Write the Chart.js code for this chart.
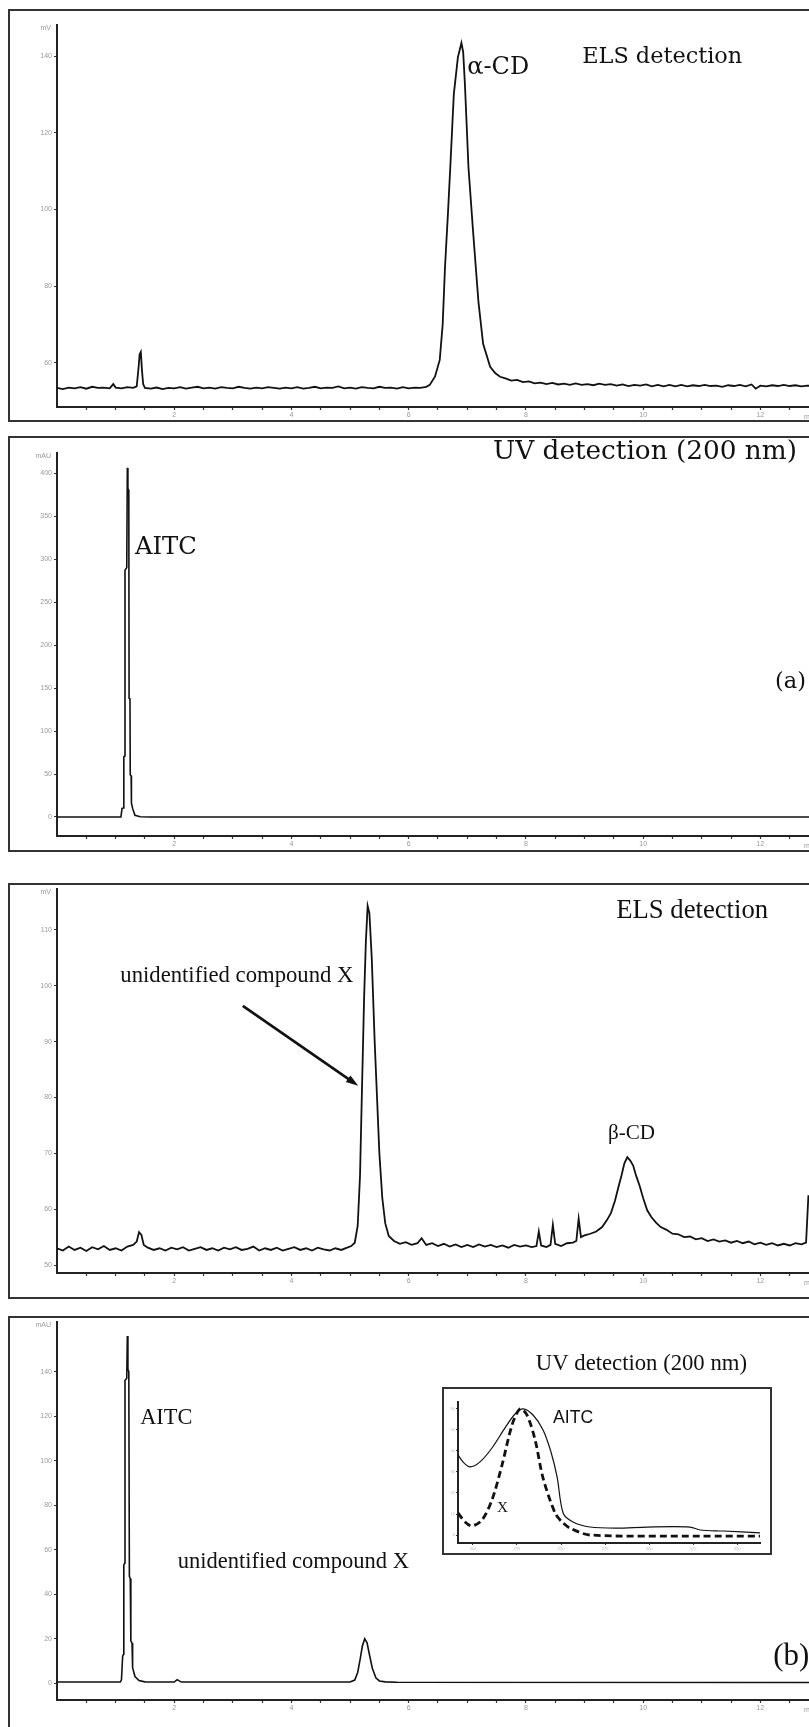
<!DOCTYPE html>
<html>
<head>
<meta charset="utf-8">
<script src="https://cdn.jsdelivr.net/npm/chart.js@4.4.0/dist/chart.umd.min.js"></script>
<style>
  html, body { margin: 0; padding: 0; background: #fff; overflow: hidden; }
  canvas { position: absolute; left: 0; }
</style>
</head>
<body>
<canvas id="p1" width="809" height="413" style="top:9px"></canvas>
<canvas id="p2" width="809" height="416" style="top:436px"></canvas>
<canvas id="p3" width="809" height="416" style="top:883px"></canvas>
<canvas id="p4" width="809" height="411" style="top:1316px"></canvas>
<canvas id="inset" width="330" height="168" style="left:442px; top:1387px"></canvas>
<script>
// retention time axis (min)
const xTicks = [0.5, 1, 1.5, 2, 2.5, 3, 3.5, 4, 4.5, 5, 5.5, 6, 6.5, 7, 7.5, 8, 8.5, 9, 9.5, 10, 10.5, 11, 11.5, 12, 12.5];
const xLabelled = [2, 4, 6, 8, 10, 12];
const xMax = 12.83;

// (a) ELS detection, mV
const elsA_t = [0, 0.1, 0.2, 0.3, 0.4, 0.5, 0.6, 0.7, 0.8, 0.9, 0.96, 1.0, 1.1, 1.2, 1.3, 1.36, 1.39, 1.41, 1.43, 1.45, 1.47, 1.5,
  1.6, 1.7, 1.8, 1.9, 2.0, 2.1, 2.2, 2.3, 2.4, 2.5, 2.6, 2.7, 2.8, 2.9, 3.0, 3.1, 3.2, 3.3, 3.4, 3.5, 3.6, 3.7, 3.8, 3.9,
  4.0, 4.1, 4.2, 4.3, 4.4, 4.5, 4.6, 4.7, 4.8, 4.9, 5.0, 5.1, 5.2, 5.3, 5.4, 5.5, 5.6, 5.7, 5.8, 5.9, 6.0, 6.1, 6.2, 6.3,
  6.36, 6.45, 6.53, 6.58, 6.62, 6.67, 6.71, 6.77, 6.84, 6.9, 6.93, 6.96, 7.02, 7.1, 7.19, 7.27, 7.39, 7.48, 7.56, 7.65,
  7.75, 7.85, 7.95, 8.05, 8.15, 8.25, 8.35, 8.45, 8.55, 8.65, 8.75, 8.85, 8.95, 9.05, 9.15, 9.25, 9.35, 9.45, 9.55, 9.65,
  9.75, 9.85, 9.95, 10.05, 10.15, 10.25, 10.35, 10.45, 10.55, 10.65, 10.75, 10.85, 10.95, 11.05, 11.15, 11.25, 11.35,
  11.45, 11.55, 11.65, 11.75, 11.85, 11.92, 12.0, 12.1, 12.2, 12.3, 12.4, 12.5, 12.6, 12.7, 12.8, 12.9];
const elsA_mv = [53.5, 53.2, 53.6, 53.4, 53.7, 53.3, 53.8, 53.5, 53.6, 53.4, 54.5, 53.6, 53.4, 53.7, 53.5, 53.9, 58.5, 62.3, 62.9, 58.0, 54.5, 53.5,
  53.3, 53.6, 53.2, 53.5, 53.4, 53.7, 53.3, 53.6, 53.8, 53.4, 53.6, 53.3, 53.7, 53.5, 53.4, 53.8, 53.5, 53.3, 53.6, 53.4, 53.7, 53.5, 53.3, 53.6,
  53.4, 53.7, 53.3, 53.5, 53.8, 53.4, 53.6, 53.5, 53.9, 53.4, 53.6, 53.3, 53.7, 53.5, 53.4, 53.8, 53.5, 53.6, 53.3, 53.7, 53.4, 53.6, 53.5, 53.8,
  54.3, 56.5, 60.8, 70, 85, 99, 111, 130, 139.7, 143.4, 141, 132.5, 111, 94, 76, 65, 59, 57.3, 56.4, 56.0,
  55.4, 55.6, 55.0, 55.2, 54.7, 54.9, 54.5, 54.8, 54.4, 54.6, 54.3, 54.7, 54.3, 54.5, 54.2, 54.6, 54.3, 54.5, 54.1, 54.4,
  54.0, 54.3, 54.1, 54.4, 53.9, 54.3, 53.9, 54.3, 53.9, 54.3, 53.9, 54.2, 54.0, 54.3, 54.0, 54.1, 53.8,
  54.2, 54.0, 54.3, 53.9, 54.4, 53.3, 54.1, 53.9, 54.2, 54.0, 54.3, 54.0, 54.2, 53.9, 54.1, 54.0];
const elsA_ticks = [60, 80, 100, 120, 140];

// (a) UV detection 200 nm, mAU
const uvA_t = [0, 1.09, 1.11, 1.13, 1.14, 1.155, 1.16, 1.19, 1.2, 1.21, 1.225, 1.23, 1.245, 1.25, 1.265, 1.27, 1.29, 1.33, 1.42, 1.6, 12.9];
const uvA_mau = [0, 0, 10, 10.5, 70, 71, 287, 290, 406, 382, 380, 138, 137, 49, 48, 16, 10, 2, 0.3, 0, 0];
const uvA_ticks = [0, 50, 100, 150, 200, 250, 300, 350, 400];

// (b) ELS detection, mV
const elsB_t = [0, 0.1, 0.2, 0.3, 0.4, 0.5, 0.6, 0.7, 0.8, 0.9, 1.0, 1.1, 1.2, 1.3, 1.36, 1.4, 1.44, 1.48, 1.55, 1.65, 1.75, 1.85, 1.95,
  2.05, 2.15, 2.25, 2.35, 2.45, 2.55, 2.65, 2.75, 2.85, 2.95, 3.05, 3.15, 3.25, 3.35, 3.45, 3.55, 3.65, 3.75, 3.85, 3.95,
  4.05, 4.15, 4.25, 4.35, 4.45, 4.55, 4.65, 4.75, 4.85, 4.95, 5.02, 5.08, 5.13, 5.17, 5.2, 5.24, 5.27, 5.3, 5.33, 5.37,
  5.42, 5.46, 5.5, 5.55, 5.6, 5.66, 5.75, 5.85, 5.95, 6.05, 6.15, 6.22, 6.3, 6.4, 6.5, 6.6, 6.7, 6.8, 6.9, 7.0, 7.1, 7.2,
  7.3, 7.4, 7.5, 7.6, 7.7, 7.8, 7.9, 8.0, 8.1, 8.18, 8.22, 8.26, 8.35, 8.42, 8.46, 8.5, 8.6, 8.7, 8.8, 8.86, 8.9, 8.94,
  9.0, 9.1, 9.2, 9.3, 9.38, 9.45, 9.52, 9.58, 9.63, 9.68, 9.73, 9.78, 9.83, 9.88, 9.94, 10.0, 10.07, 10.14, 10.22, 10.3,
  10.4, 10.5, 10.6, 10.7, 10.8, 10.9, 11.0, 11.1, 11.2, 11.3, 11.4, 11.5, 11.6, 11.7, 11.8, 11.9, 12.0, 12.1, 12.2, 12.3,
  12.4, 12.5, 12.6, 12.7, 12.78, 12.82];
const elsB_mv = [53.0, 52.6, 53.3, 52.7, 53.1, 52.5, 53.2, 52.8, 53.4, 52.7, 53.0, 52.6, 53.3, 53.6, 54.2, 55.9, 55.4, 53.6, 53.1, 52.7, 53.0, 52.6, 53.1,
  52.8, 53.2, 52.6, 52.9, 53.2, 52.7, 53.0, 52.6, 53.1, 52.8, 53.2, 52.7, 52.9, 53.3, 52.6, 53.0, 52.7, 53.1, 52.6, 52.9,
  53.2, 52.7, 53.0, 52.6, 53.1, 52.8, 52.6, 53.0, 52.7, 53.1, 53.4, 54, 57, 66, 80, 98, 108, 114.3, 113, 105,
  90, 80, 70, 62, 57.5, 55.2, 54.3, 53.8, 54.1, 53.6, 53.9, 54.8, 53.6, 53.9, 53.4, 53.8, 53.3, 53.7, 53.2, 53.6, 53.2, 53.7,
  53.3, 53.6, 53.2, 53.5, 53.1, 53.6, 53.3, 53.5, 53.2, 53.4, 56.0, 53.5, 53.2, 53.6, 57.2, 53.8, 53.4, 53.9, 54.0, 54.3, 58.3, 55.0,
  55.3, 55.6, 56.0, 56.8, 58.0, 59.3, 61.5, 64.0, 66.0, 68.2, 69.3, 68.7, 67.8, 66.0, 64.2, 62.0, 59.8, 58.6, 57.6, 56.8,
  56.3, 55.6, 55.5, 55.0, 55.1, 54.6, 54.8, 54.3, 54.6, 54.2, 54.4, 54.0, 54.3, 53.9, 54.2, 53.7, 54.0, 53.6, 53.9, 53.5,
  53.8, 53.5, 53.9, 53.7, 54.0, 62.5];
const elsB_ticks = [50, 60, 70, 80, 90, 100, 110];

// (b) UV detection 200 nm, mAU
const uvB_t = [0, 1.08, 1.1, 1.12, 1.135, 1.14, 1.155, 1.16, 1.19, 1.2, 1.21, 1.225, 1.235, 1.25, 1.26, 1.28, 1.29, 1.33, 1.4, 1.5,
  2.0, 2.05, 2.12, 5.0, 5.08, 5.13, 5.17, 5.21, 5.25, 5.29, 5.33, 5.38, 5.44, 5.5, 5.6, 5.8, 12.9];
const uvB_mau = [0.5, 0.5, 1.5, 12, 13, 53, 54, 136, 137, 156, 141, 140, 48, 47, 19, 18, 7, 3, 1.2, 0.6,
  0.5, 1.6, 0.5, 0.5, 1.4, 4.8, 10.5, 16.7, 20, 18.1, 12.9, 6.7, 2.4, 1.0, 0.6, 0.4, 0.3];
const uvB_ticks = [0, 20, 40, 60, 80, 100, 120, 140];

// inset: UV spectra, wavelength (nm) vs mAU
const specAITC_nm = [191.5, 194.3, 198.3, 204, 210.8, 218.2, 223.9, 228.4, 234.1, 239.8, 244.3, 247.8, 251.2, 256.8, 266.5, 281.8, 298.9, 323.3, 329, 342.1, 363];
const specAITC_mau = [38.1, 34.8, 32.4, 34.8, 41.4, 51, 57.6, 60, 57.1, 50, 39.5, 27.6, 10.5, 6.2, 3.8, 3.3, 3.8, 3.8, 2.4, 1.9, 1.0];
const specX_nm = [191.5, 195.5, 199.5, 205.1, 210.8, 216.5, 222.2, 226.7, 230.7, 235.3, 239.8, 246.6, 250.6, 255.1, 266.5, 329, 363];
const specX_mau = [10.5, 6.2, 4.3, 7.1, 16.7, 33.3, 52.4, 60, 57.1, 45.2, 27.1, 10.5, 6.2, 3.3, 0, -0.5, -0.5];
const insetXTicks = [200, 225, 250, 275, 300, 325, 350];
const insetYTicks = [0, 10, 20, 30, 40, 50, 60];

function pts(t, v) { return t.map((x, i) => ({ x: x, y: v[i] })); }

const framePlugin = {
  id: 'frame',
  beforeDraw(chart, args, opts) {
    const c = chart.ctx;
    c.save();
    c.fillStyle = '#fff';
    c.fillRect(0, 0, chart.width, chart.height);
    c.strokeStyle = '#333';
    c.lineWidth = 2;
    c.strokeRect(opts.left, 1, opts.width, opts.height);
    c.restore();
  }
};

function fitFont(c, text, w, family) {
  c.font = '100px ' + family;
  const size = 100 * w / c.measureText(text).width;
  c.font = size.toFixed(1) + 'px ' + family;
}

const notesPlugin = {
  id: 'notes',
  afterDraw(chart, args, opts) {
    const c = chart.ctx, sx = chart.scales.x, sy = chart.scales.y;
    c.save();
    c.fillStyle = '#111';
    c.textBaseline = 'middle';
    c.textAlign = 'left';
    (opts.items || []).forEach(n => {
      fitFont(c, n.text, n.w, n.family);
      c.fillText(n.text, sx.getPixelForValue(n.x), sy.getPixelForValue(n.y));
    });
    (opts.arrows || []).forEach(a => {
      const x0 = sx.getPixelForValue(a.x0), y0 = sy.getPixelForValue(a.y0);
      const x1 = sx.getPixelForValue(a.x1), y1 = sy.getPixelForValue(a.y1);
      const ang = Math.atan2(y1 - y0, x1 - x0);
      const hl = 13;
      c.strokeStyle = '#111';
      c.lineWidth = 2.6;
      c.beginPath();
      c.moveTo(x0, y0);
      c.lineTo(x1 - hl * 0.8 * Math.cos(ang), y1 - hl * 0.8 * Math.sin(ang));
      c.stroke();
      c.beginPath();
      c.moveTo(x1, y1);
      c.lineTo(x1 - hl * Math.cos(ang - 0.32), y1 - hl * Math.sin(ang - 0.32));
      c.lineTo(x1 - hl * Math.cos(ang + 0.32), y1 - hl * Math.sin(ang + 0.32));
      c.closePath();
      c.fill();
    });
    if (opts.unit) {
      c.fillStyle = '#999';
      c.font = '7px "Liberation Sans"';
      c.textAlign = 'right';
      c.fillText(opts.unit, sx.left - 6, sy.top + 3);
      c.textAlign = 'left';
      c.fillText('min', chart.width - 5, sx.top + 10);
    }
    c.restore();
  }
};

function axisStyle() {
  return {
    grid: { display: true, drawOnChartArea: false, drawTicks: true, tickLength: 3, tickColor: '#333', tickWidth: 1.2 },
    border: { display: true, color: '#222', width: 2 },
  };
}

function panel(id, cfg) {
  const xs = axisStyle(), ys = axisStyle();
  return new Chart(document.getElementById(id), {
    type: 'line',
    data: { datasets: [{ data: pts(cfg.t, cfg.v), borderColor: '#111', borderWidth: cfg.lw, pointRadius: 0, tension: 0 }] },
    options: {
      responsive: false,
      animation: false,
      events: [],
      layout: { padding: { left: 0, right: 0, top: cfg.padTop, bottom: 0 } },
      scales: {
        x: {
          type: 'linear', min: 0, max: xMax,
          grid: xs.grid, border: xs.border,
          afterFit: s => { s.height = cfg.xh; },
          afterBuildTicks: s => { s.ticks = xTicks.map(v => ({ value: v })); },
          ticks: { autoSkip: false, maxRotation: 0, padding: 1, color: '#999', font: { size: 7, family: 'Liberation Sans' },
            callback: v => xLabelled.includes(v) ? String(v) : '' }
        },
        y: {
          type: 'linear', min: cfg.yMin, max: cfg.yMax,
          grid: ys.grid, border: ys.border,
          afterFit: s => { s.width = 57; },
          afterBuildTicks: s => { s.ticks = cfg.yTicks.map(v => ({ value: v })); },
          ticks: { autoSkip: false, padding: 2, color: '#999', font: { size: 7, family: 'Liberation Sans' } }
        }
      },
      plugins: {
        legend: { display: false },
        tooltip: { enabled: false },
        frame: { left: 9, width: 1000, height: cfg.frameH },
        notes: { items: cfg.items, arrows: cfg.arrows || [], unit: cfg.unit }
      }
    },
    plugins: [framePlugin, notesPlugin]
  });
}

const SERIF_A = '"DejaVu Serif"';
const SERIF_B = '"Liberation Serif"';

panel('p1', {
  t: elsA_t, v: elsA_mv, yTicks: elsA_ticks, yMin: 48.53, yMax: 148.08,
  padTop: 16, xh: 15, frameH: 411, unit: 'mV', lw: 1.8,
  items: [
    { text: 'α-CD', x: 7.0, y: 136.9, w: 62, family: SERIF_A },
    { text: 'ELS detection', x: 8.96, y: 139.7, w: 160, family: SERIF_A }
  ]
});

panel('p2', {
  t: uvA_t, v: uvA_mau, yTicks: uvA_ticks, yMin: -22.1, yMax: 423.3,
  padTop: 17, xh: 16, frameH: 414, unit: 'mAU', lw: 1.6,
  items: [
    { text: 'AITC', x: 1.33, y: 312.8, w: 62, family: SERIF_A },
    { text: 'UV detection (200 nm)', x: 7.44, y: 424.5, w: 304, family: SERIF_A },
    { text: '(a)', x: 12.25, y: 157, w: 31, family: SERIF_A }
  ]
});

panel('p3', {
  t: elsB_t, v: elsB_mv, yTicks: elsB_ticks, yMin: 48.57, yMax: 117.3,
  padTop: 5, xh: 26, frameH: 414, unit: 'mV', lw: 1.8,
  items: [
    { text: 'ELS detection', x: 9.54, y: 113.4, w: 152, family: SERIF_B },
    { text: 'unidentified compound X', x: 1.08, y: 101.8, w: 233, family: SERIF_B },
    { text: 'β-CD', x: 9.4, y: 73.6, w: 47, family: SERIF_B }
  ],
  arrows: [{ x0: 3.17, y0: 96.4, x1: 5.14, y1: 82.1 }]
});

panel('p4', {
  t: uvB_t, v: uvB_mau, yTicks: uvB_ticks, yMin: -7.56, yMax: 162.2,
  padTop: 3, xh: 27, frameH: 500, unit: 'mAU', lw: 1.6,
  items: [
    { text: 'UV detection (200 nm)', x: 8.17, y: 143.6, w: 211, family: SERIF_B },
    { text: 'AITC', x: 1.42, y: 119.1, w: 52, family: SERIF_B },
    { text: 'unidentified compound X', x: 2.06, y: 54.2, w: 231, family: SERIF_B },
    { text: '(b)', x: 12.22, y: 11.6, w: 36, family: SERIF_B }
  ]
});

// inset spectra
new Chart(document.getElementById('inset'), {
  type: 'line',
  data: {
    datasets: [
      { data: pts(specAITC_nm, specAITC_mau), borderColor: '#111', borderWidth: 1.2, pointRadius: 0, tension: 0.3 },
      { data: pts(specX_nm, specX_mau), borderColor: '#111', borderWidth: 2.8, borderDash: [7, 4], pointRadius: 0, tension: 0.3 }
    ]
  },
  options: {
    responsive: false,
    animation: false,
    events: [],
    layout: { padding: { left: 0, right: 12, top: 15, bottom: 0 } },
    scales: {
      x: {
        type: 'linear', min: 191.5, max: 363,
        grid: { display: true, drawOnChartArea: false, tickLength: 2, tickColor: '#333', tickWidth: 1 },
        border: { display: true, color: '#222', width: 2 },
        afterFit: s => { s.height = 12; },
        afterBuildTicks: s => { s.ticks = insetXTicks.map(v => ({ value: v })); },
        ticks: { autoSkip: false, maxRotation: 0, padding: 1, color: '#bbb', font: { size: 4, family: 'Liberation Sans' } }
      },
      y: {
        type: 'linear', min: -3.8, max: 63.3,
        grid: { display: true, drawOnChartArea: false, tickLength: 2, tickColor: '#333', tickWidth: 1 },
        border: { display: true, color: '#222', width: 2 },
        afterFit: s => { s.width = 16; },
        afterBuildTicks: s => { s.ticks = insetYTicks.map(v => ({ value: v })); },
        ticks: { autoSkip: false, padding: 1, color: '#bbb', font: { size: 4, family: 'Liberation Sans' } }
      }
    },
    plugins: {
      legend: { display: false },
      tooltip: { enabled: false },
      frame: { left: 1, width: 328, height: 166 },
      notes: {
        items: [
          { text: 'AITC', x: 245.5, y: 55.7, w: 40, family: '"Liberation Sans"' },
          { text: 'X', x: 213.7, y: 12.9, w: 11, family: SERIF_B }
        ]
      }
    }
  },
  plugins: [framePlugin, notesPlugin]
});
</script>
</body>
</html>
